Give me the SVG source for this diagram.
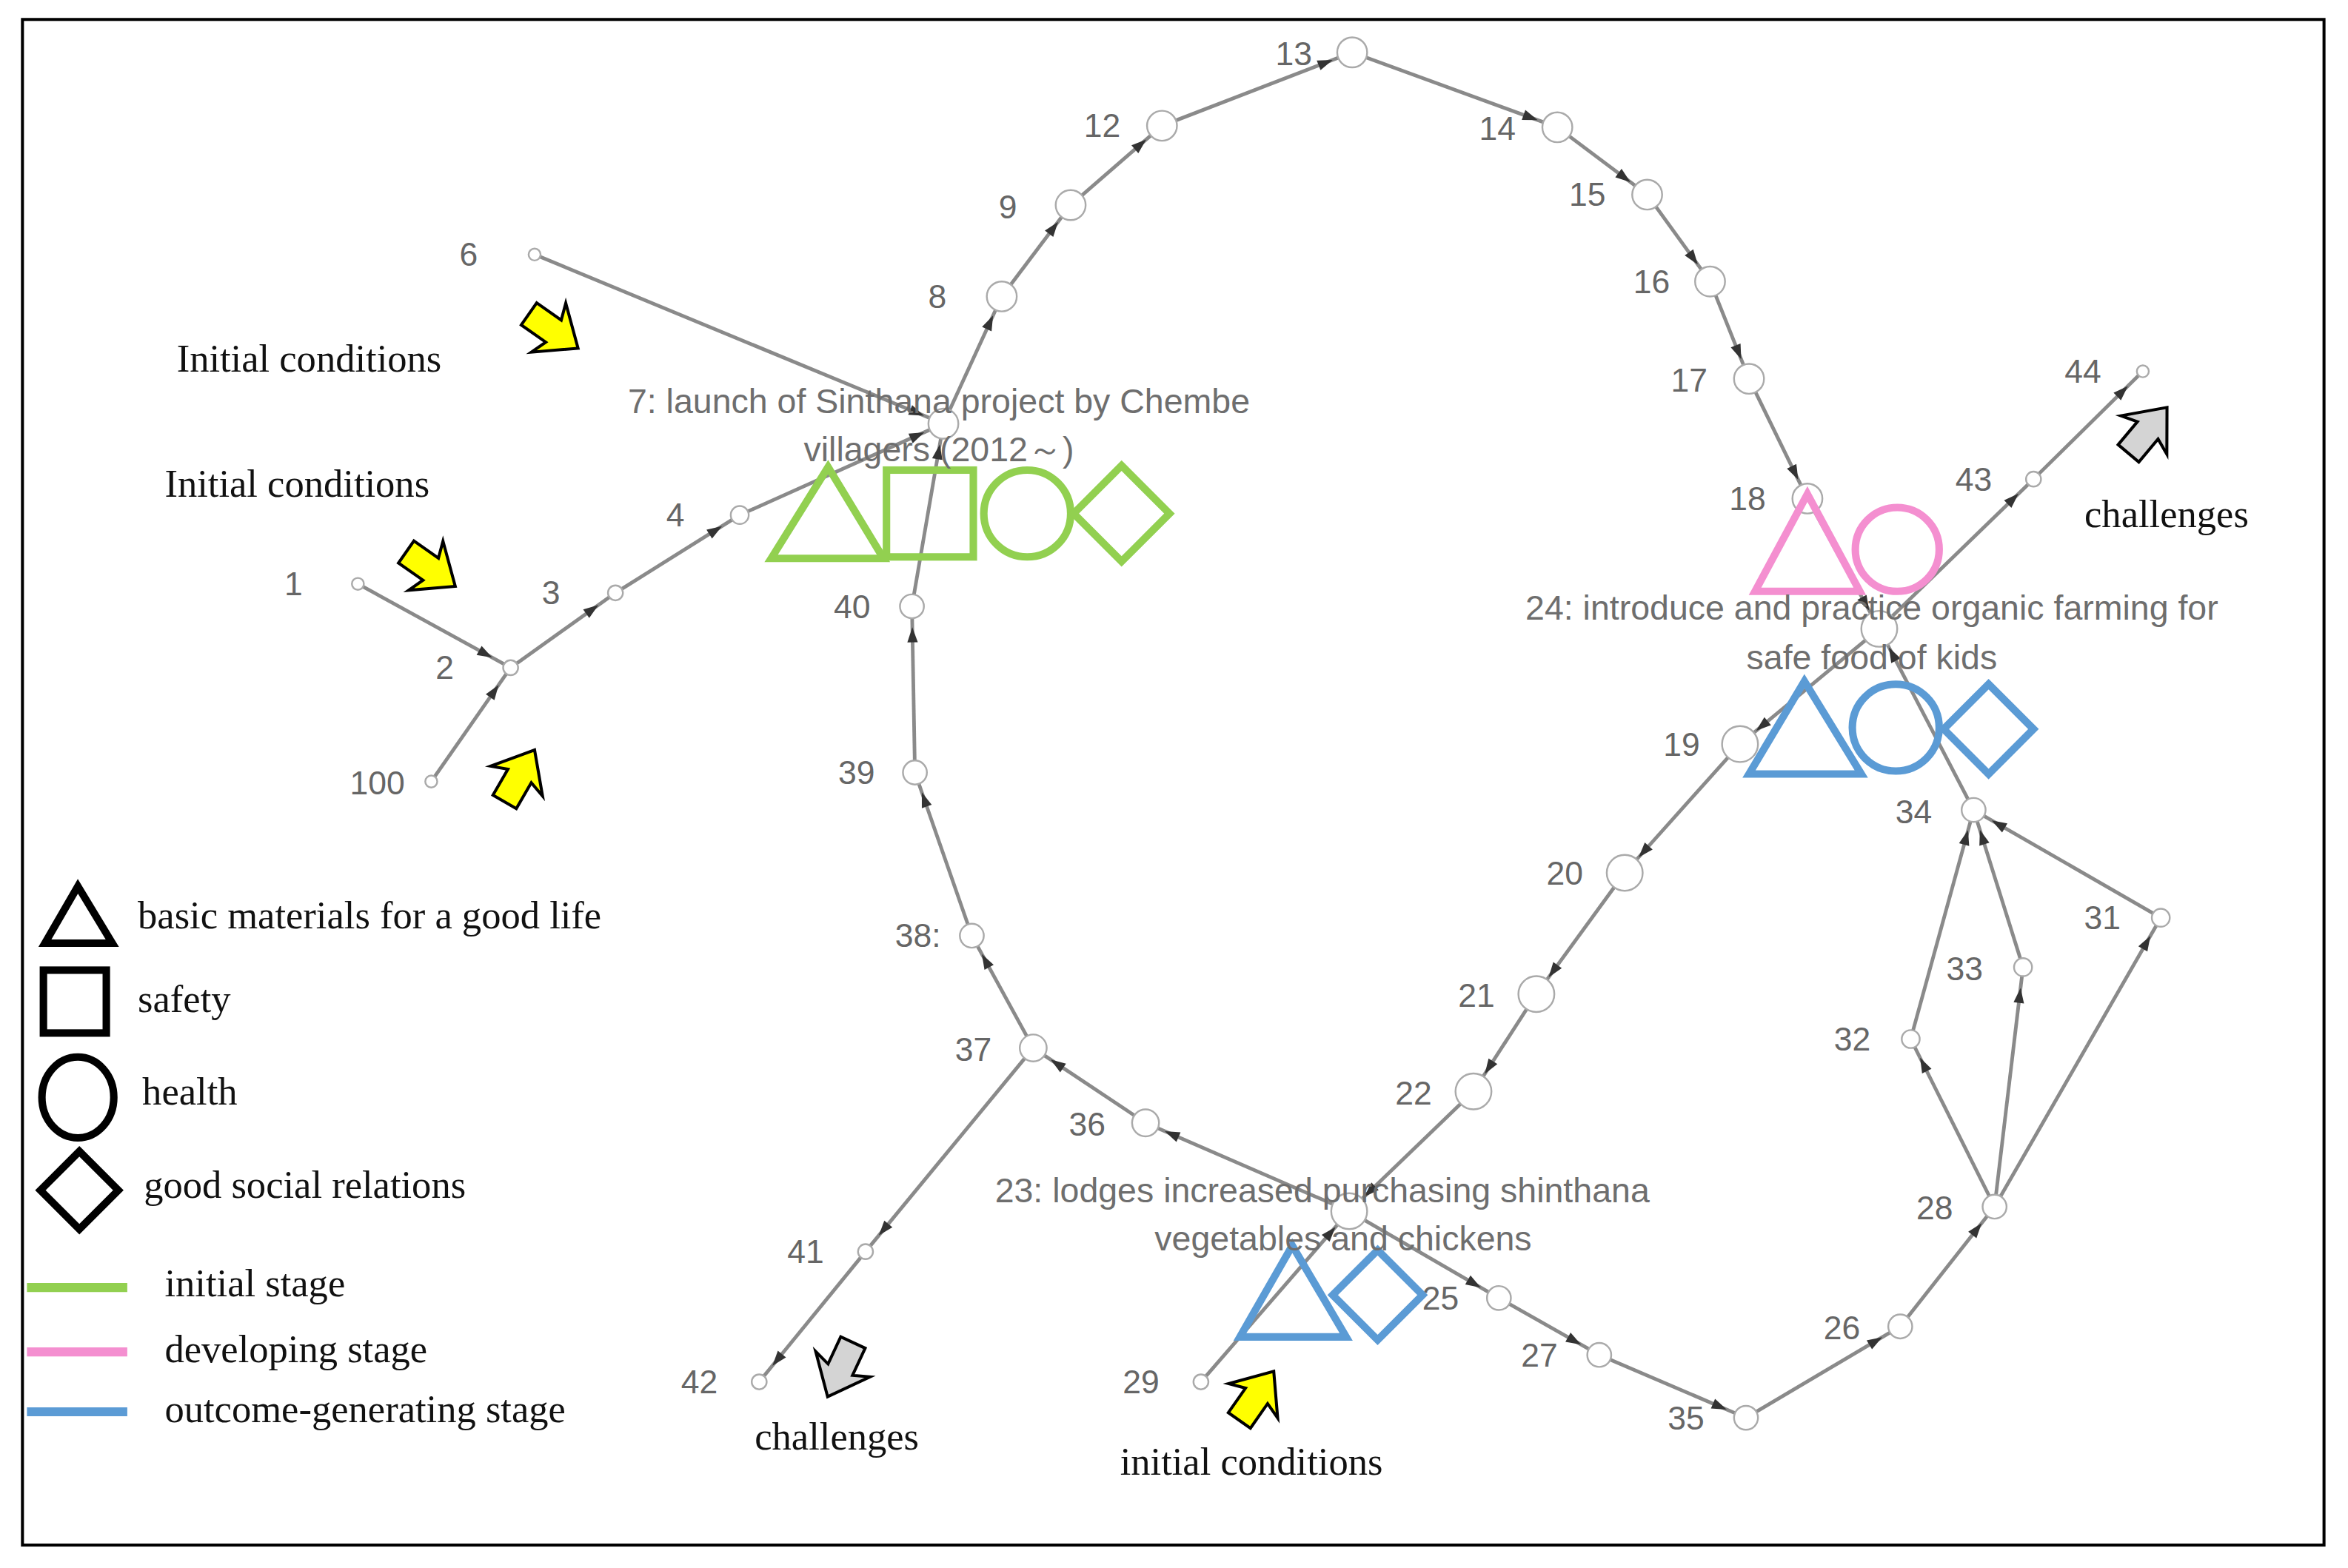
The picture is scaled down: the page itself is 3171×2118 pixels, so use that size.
<svg xmlns="http://www.w3.org/2000/svg" width="3171" height="2118" viewBox="0 0 3171 2118">
<defs>
<style>
.e{stroke:#8a8a8a;stroke-width:2.4;fill:none;marker-end:url(#ah)}
.n circle{fill:#fff;stroke:#aaa;stroke-width:1.2}
.num{font-family:"Liberation Sans",Arial,sans-serif;font-size:22px;fill:#666;text-anchor:middle;dominant-baseline:central}
.lab{font-family:"Liberation Sans",Arial,sans-serif;font-size:23px;fill:#6e6e6e;text-anchor:middle}
.ser{font-family:"Liberation Serif","Times New Roman",serif;font-size:26px;fill:#111}
.g{fill:none;stroke:#92D050;stroke-width:5}
.p{fill:none;stroke:#F48FD0;stroke-width:5}
.b{fill:none;stroke:#5B9BD5;stroke-width:5}
.k{fill:none;stroke:#000;stroke-width:5}
.ya{fill:#FFFF00;stroke:#000;stroke-width:2}
.ga{fill:#d4d4d4;stroke:#000;stroke-width:2}
</style>
<marker id="ah" markerUnits="userSpaceOnUse" viewBox="-12 -5 14 10" refX="14" refY="0" markerWidth="14" markerHeight="10" orient="auto" overflow="visible">
<path d="M-10,-3.5 L0,0 L-10,3.5 Z" fill="#333"/>
</marker>
<path id="blk" d="M-18,-9 L2,-9 L-2,-20 L22,0 L-2,20 L2,9 L-18,9 Z"/>
</defs>
<rect x="0" y="0" width="3171" height="2118" fill="#fff"/>
<g transform="scale(2.0223)">
<rect x="15" y="13" width="1537" height="1019" fill="none" stroke="#000" stroke-width="2"/>
<g id="connectors">
<line class="e" x1="239" y1="390" x2="341" y2="446"/>
<line class="e" x1="288" y1="522" x2="341" y2="446"/>
<line class="e" x1="341" y1="446" x2="411" y2="396"/>
<line class="e" x1="411" y1="396" x2="494" y2="344"/>
<line class="e" x1="494" y1="344" x2="630" y2="283"/>
<line class="e" x1="357" y1="170" x2="630" y2="283"/>
<line class="e" x1="630" y1="283" x2="669" y2="198"/>
<line class="e" x1="669" y1="198" x2="715" y2="137"/>
<line class="e" x1="715" y1="137" x2="776" y2="84"/>
<line class="e" x1="776" y1="84" x2="903" y2="35"/>
<line class="e" x1="903" y1="35" x2="1040" y2="85"/>
<line class="e" x1="1040" y1="85" x2="1100" y2="130"/>
<line class="e" x1="1100" y1="130" x2="1142" y2="188"/>
<line class="e" x1="1142" y1="188" x2="1168" y2="253"/>
<line class="e" x1="1168" y1="253" x2="1207" y2="333"/>
<line class="e" x1="1207" y1="333" x2="1255" y2="420"/>
<line class="e" x1="1255" y1="420" x2="1358" y2="320"/>
<line class="e" x1="1358" y1="320" x2="1431" y2="248"/>
<line class="e" x1="1255" y1="420" x2="1162" y2="497"/>
<line class="e" x1="1162" y1="497" x2="1085" y2="583"/>
<line class="e" x1="1085" y1="583" x2="1026" y2="664"/>
<line class="e" x1="1026" y1="664" x2="984" y2="729"/>
<line class="e" x1="984" y1="729" x2="901" y2="809"/>
<line class="e" x1="802" y1="923" x2="901" y2="809"/>
<line class="e" x1="901" y1="809" x2="765" y2="750"/>
<line class="e" x1="765" y1="750" x2="690" y2="700"/>
<line class="e" x1="690" y1="700" x2="649" y2="625"/>
<line class="e" x1="649" y1="625" x2="611" y2="516"/>
<line class="e" x1="611" y1="516" x2="609" y2="405"/>
<line class="e" x1="609" y1="405" x2="630" y2="283"/>
<line class="e" x1="690" y1="700" x2="578" y2="836"/>
<line class="e" x1="578" y1="836" x2="507" y2="923"/>
<line class="e" x1="901" y1="809" x2="1001" y2="867"/>
<line class="e" x1="1001" y1="867" x2="1068" y2="905"/>
<line class="e" x1="1068" y1="905" x2="1166" y2="947"/>
<line class="e" x1="1166" y1="947" x2="1269" y2="886"/>
<line class="e" x1="1269" y1="886" x2="1332" y2="806"/>
<line class="e" x1="1332" y1="806" x2="1276" y2="694"/>
<line class="e" x1="1332" y1="806" x2="1351" y2="646"/>
<line class="e" x1="1332" y1="806" x2="1443" y2="613"/>
<line class="e" x1="1276" y1="694" x2="1318" y2="541"/>
<line class="e" x1="1351" y1="646" x2="1318" y2="541"/>
<line class="e" x1="1443" y1="613" x2="1318" y2="541"/>
<line class="e" x1="1318" y1="541" x2="1255" y2="420"/>
</g>
<g class="n">
<g id="n1"><circle cx="239" cy="390" r="4"/><text class="num" x="196" y="390">1</text></g>
<g id="n2"><circle cx="341" cy="446" r="5"/><text class="num" x="297" y="446">2</text></g>
<g id="n100"><circle cx="288" cy="522" r="4"/><text class="num" x="252" y="523">100</text></g>
<g id="n3"><circle cx="411" cy="396" r="5"/><text class="num" x="368" y="396">3</text></g>
<g id="n4"><circle cx="494" cy="344" r="6"/><text class="num" x="451" y="344">4</text></g>
<g id="n6"><circle cx="357" cy="170" r="4"/><text class="num" x="313" y="170">6</text></g>
<g id="n7"><circle cx="630" cy="283" r="10"/></g>
<g id="n8"><circle cx="669" cy="198" r="10"/><text class="num" x="626" y="198">8</text></g>
<g id="n9"><circle cx="715" cy="137" r="10"/><text class="num" x="673" y="138">9</text></g>
<g id="n12"><circle cx="776" cy="84" r="10"/><text class="num" x="736" y="84">12</text></g>
<g id="n13"><circle cx="903" cy="35" r="10"/><text class="num" x="864" y="36">13</text></g>
<g id="n14"><circle cx="1040" cy="85" r="10"/><text class="num" x="1000" y="86">14</text></g>
<g id="n15"><circle cx="1100" cy="130" r="10"/><text class="num" x="1060" y="130">15</text></g>
<g id="n16"><circle cx="1142" cy="188" r="10"/><text class="num" x="1103" y="188">16</text></g>
<g id="n17"><circle cx="1168" cy="253" r="10"/><text class="num" x="1128" y="254">17</text></g>
<g id="n18"><circle cx="1207" cy="333" r="10"/><text class="num" x="1167" y="333">18</text></g>
<g id="n24"><circle cx="1255" cy="420" r="12"/></g>
<g id="n43"><circle cx="1358" cy="320" r="5"/><text class="num" x="1318" y="320">43</text></g>
<g id="n44"><circle cx="1431" cy="248" r="4"/><text class="num" x="1391" y="248">44</text></g>
<g id="n19"><circle cx="1162" cy="497" r="12"/><text class="num" x="1123" y="497">19</text></g>
<g id="n20"><circle cx="1085" cy="583" r="12"/><text class="num" x="1045" y="583">20</text></g>
<g id="n21"><circle cx="1026" cy="664" r="12"/><text class="num" x="986" y="665">21</text></g>
<g id="n22"><circle cx="984" cy="729" r="12"/><text class="num" x="944" y="730">22</text></g>
<g id="n23"><circle cx="901" cy="809" r="12"/></g>
<g id="n36"><circle cx="765" cy="750" r="9"/><text class="num" x="726" y="751">36</text></g>
<g id="n37"><circle cx="690" cy="700" r="9"/><text class="num" x="650" y="701">37</text></g>
<g id="n38"><circle cx="649" cy="625" r="8"/><text class="num" x="613" y="625">38:</text></g>
<g id="n39"><circle cx="611" cy="516" r="8"/><text class="num" x="572" y="516">39</text></g>
<g id="n40"><circle cx="609" cy="405" r="8"/><text class="num" x="569" y="405">40</text></g>
<g id="n41"><circle cx="578" cy="836" r="5"/><text class="num" x="538" y="836">41</text></g>
<g id="n42"><circle cx="507" cy="923" r="5"/><text class="num" x="467" y="923">42</text></g>
<g id="n29"><circle cx="802" cy="923" r="5"/><text class="num" x="762" y="923">29</text></g>
<g id="n25"><circle cx="1001" cy="867" r="8"/><text class="num" x="962" y="867">25</text></g>
<g id="n27"><circle cx="1068" cy="905" r="8"/><text class="num" x="1028" y="905">27</text></g>
<g id="n35"><circle cx="1166" cy="947" r="8"/><text class="num" x="1126" y="947">35</text></g>
<g id="n26"><circle cx="1269" cy="886" r="8"/><text class="num" x="1230" y="887">26</text></g>
<g id="n28"><circle cx="1332" cy="806" r="8"/><text class="num" x="1292" y="807">28</text></g>
<g id="n32"><circle cx="1276" cy="694" r="6"/><text class="num" x="1237" y="694">32</text></g>
<g id="n33"><circle cx="1351" cy="646" r="6"/><text class="num" x="1312" y="647">33</text></g>
<g id="n31"><circle cx="1443" cy="613" r="6"/><text class="num" x="1404" y="613">31</text></g>
<g id="n34"><circle cx="1318" cy="541" r="8"/><text class="num" x="1278" y="542">34</text></g>
</g>
<g id="shapes7">
<polygon class="g" points="515,373 553,312 590,373"/>
<rect class="g" x="592" y="314" width="58" height="58"/>
<circle class="g" cx="686" cy="343" r="29"/>
<polygon class="g" points="749,311 781,343 749,375 717,343"/>
</g>
<g id="shapes18">
<polygon class="p" points="1172,395 1207,330 1242,395"/>
<circle class="p" cx="1267" cy="367" r="28"/>
</g>
<g id="shapes24">
<polygon class="b" points="1168,517 1205,455 1243,517"/>
<circle class="b" cx="1266" cy="486" r="29"/>
<polygon class="b" points="1328,457 1358,487 1328,517 1298,487"/>
</g>
<g id="shapes23">
<polygon class="b" points="828,893 863,832 899,893"/>
<polygon class="b" points="920,835 950,865 920,895 890,865"/>
</g>
<text class="lab" x="627" y="276">7: launch of Sinthana project by Chembe</text>
<text class="lab" x="627" y="308">villagers (2012～)</text>
<text class="lab" x="1250" y="414">24: introduce and practice organic farming for</text>
<text class="lab" x="1250" y="447">safe food of kids</text>
<text class="lab" x="883" y="803">23: lodges increased purchasing shinthana</text>
<text class="lab" x="897" y="835">vegetables and chickens</text>
<g id="arrows">
<use href="#blk" class="ya" transform="translate(368,220) rotate(35)"/>
<use href="#blk" class="ya" transform="translate(286,379) rotate(35)"/>
<use href="#blk" class="ya" transform="translate(346,520) rotate(-60)"/>
<use href="#blk" class="ya" transform="translate(838,934) rotate(-55)"/>
<use href="#blk" class="ga" transform="translate(1433,289) rotate(-50)"/>
<use href="#blk" class="ga" transform="translate(562,913) rotate(115)"/>
</g>
<text class="ser" x="118" y="248">Initial conditions</text>
<text class="ser" x="110" y="332">Initial conditions</text>
<text class="ser" x="1392" y="352">challenges</text>
<text class="ser" x="504" y="968">challenges</text>
<text class="ser" x="748" y="985">initial conditions</text>
<g id="legend">
<polygon class="k" points="30,630 52,592 75,630" stroke-width="4"/>
<rect class="k" x="29" y="648" width="42" height="42" stroke-width="5"/>
<ellipse class="k" cx="52" cy="733" rx="24" ry="27" stroke-width="4"/>
<polygon class="k" points="53,769 79,795 53,821 27,795" stroke-width="4"/>
<text class="ser" x="92" y="620">basic materials for a good life</text>
<text class="ser" x="92" y="676">safety</text>
<text class="ser" x="95" y="738">health</text>
<text class="ser" x="96" y="800">good social relations</text>
<line x1="18" y1="860" x2="85" y2="860" stroke="#92D050" stroke-width="6"/>
<line x1="18" y1="903" x2="85" y2="903" stroke="#F48FD0" stroke-width="6"/>
<line x1="18" y1="943" x2="85" y2="943" stroke="#5B9BD5" stroke-width="6"/>
<text class="ser" x="110" y="866">initial stage</text>
<text class="ser" x="110" y="910">developing stage</text>
<text class="ser" x="110" y="950">outcome-generating stage</text>
</g>
</g>
</svg>
